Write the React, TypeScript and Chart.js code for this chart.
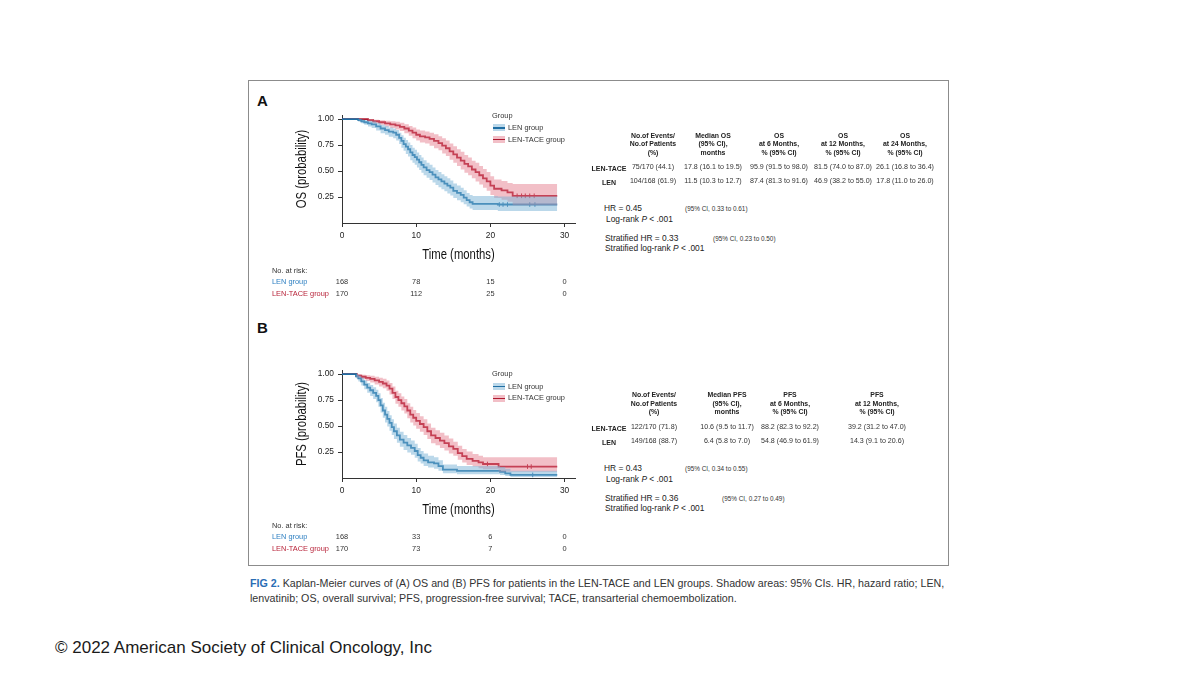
import React, { useEffect, useRef } from "react";
import { Chart, registerables } from "chart.js";

Chart.register(...registerables);

// ---------- axis ticks ----------
const X_TICKS = [0, 10, 20, 30];
const Y_TICKS = [0.25, 0.5, 0.75, 1.0];

// ---------- OS (panel A) ----------
const OS_LEN_T = [0, 2.2, 2.6, 3.0, 3.5, 4.0, 4.6, 5.2, 5.8, 6.3, 6.9, 7.3, 7.7, 8.0, 8.3, 8.6, 8.9, 9.2, 9.5, 9.8, 10.1, 10.4, 10.7, 11.0, 11.4, 11.8, 12.2, 12.6, 13.0, 13.4, 13.8, 14.2, 14.6, 15.0, 15.5, 16.0, 16.4, 16.8, 17.2, 17.6, 21.0, 29.0];
const OS_LEN_S = [1, 0.99, 0.98, 0.97, 0.96, 0.95, 0.93, 0.91, 0.895, 0.88, 0.87, 0.85, 0.82, 0.79, 0.76, 0.735, 0.71, 0.68, 0.655, 0.635, 0.61, 0.585, 0.56, 0.535, 0.51, 0.49, 0.465, 0.44, 0.42, 0.4, 0.38, 0.36, 0.34, 0.31, 0.29, 0.27, 0.245, 0.22, 0.2, 0.185, 0.178, 0.178];
const OS_LEN_LO = [1, 0.975, 0.96, 0.945, 0.93, 0.915, 0.89, 0.865, 0.85, 0.83, 0.815, 0.795, 0.76, 0.725, 0.695, 0.665, 0.64, 0.605, 0.58, 0.56, 0.535, 0.51, 0.485, 0.46, 0.435, 0.415, 0.39, 0.365, 0.345, 0.325, 0.305, 0.285, 0.265, 0.24, 0.22, 0.2, 0.18, 0.16, 0.14, 0.125, 0.115, 0.115];
const OS_LEN_HI = [1, 1, 0.995, 0.99, 0.985, 0.98, 0.965, 0.945, 0.935, 0.92, 0.91, 0.895, 0.87, 0.845, 0.82, 0.8, 0.775, 0.75, 0.725, 0.705, 0.68, 0.655, 0.63, 0.605, 0.58, 0.56, 0.535, 0.51, 0.49, 0.47, 0.45, 0.43, 0.41, 0.38, 0.36, 0.34, 0.315, 0.29, 0.27, 0.26, 0.255, 0.255];
const OS_LEN_CENSOR_T = [21.2, 21.7, 22.3, 25.3, 26.0];
const OS_LEN_CENSOR_S = [0.178, 0.178, 0.178, 0.178, 0.178];

const OS_TACE_T = [0, 3.5, 4.2, 5.0, 5.8, 6.5, 7.2, 7.8, 8.4, 9.0, 9.5, 10.0, 10.5, 11.2, 11.8, 12.4, 13.0, 13.5, 14.0, 14.5, 15.0, 15.5, 16.0, 16.5, 17.0, 17.5, 18.0, 18.5, 19.0, 19.5, 20.0, 20.5, 21.5, 22.3, 23.0, 29.0];
const OS_TACE_S = [1, 0.99, 0.98, 0.97, 0.96, 0.95, 0.94, 0.925, 0.91, 0.89, 0.87, 0.85, 0.835, 0.825, 0.81, 0.79, 0.77, 0.745, 0.72, 0.69, 0.66, 0.63, 0.6, 0.57, 0.545, 0.515, 0.49, 0.46, 0.43, 0.4, 0.36, 0.33, 0.315, 0.295, 0.262, 0.262];
const OS_TACE_LO = [1, 0.975, 0.96, 0.945, 0.93, 0.915, 0.9, 0.885, 0.865, 0.84, 0.815, 0.795, 0.775, 0.765, 0.745, 0.72, 0.7, 0.67, 0.645, 0.61, 0.58, 0.55, 0.515, 0.485, 0.46, 0.43, 0.4, 0.37, 0.34, 0.31, 0.27, 0.24, 0.225, 0.205, 0.17, 0.17];
const OS_TACE_HI = [1, 1, 0.995, 0.99, 0.985, 0.98, 0.975, 0.965, 0.95, 0.935, 0.92, 0.9, 0.89, 0.88, 0.87, 0.855, 0.835, 0.815, 0.795, 0.765, 0.74, 0.71, 0.685, 0.655, 0.63, 0.6, 0.58, 0.55, 0.52, 0.49, 0.45, 0.42, 0.405, 0.385, 0.375, 0.375];
const OS_TACE_CENSOR_T = [23.6, 24.2, 24.7, 25.3, 25.9];
const OS_TACE_CENSOR_S = [0.262, 0.262, 0.262, 0.262, 0.262];

const OS_RISK_LEN = [168, 78, 15, 0];
const OS_RISK_TACE = [170, 112, 25, 0];

// ---------- PFS (panel B) ----------
const PFS_LEN_T = [0, 1.9, 2.2, 2.6, 3.0, 3.4, 3.8, 4.2, 4.6, 4.9, 5.2, 5.5, 5.8, 6.1, 6.4, 6.7, 7.0, 7.4, 7.8, 8.3, 8.8, 9.3, 9.8, 10.2, 10.6, 11.0, 11.6, 12.4, 13.0, 13.6, 15.5, 21.3, 22.0, 22.7, 29.0];
const PFS_LEN_S = [1, 0.98, 0.96, 0.93, 0.9, 0.87, 0.845, 0.82, 0.79, 0.75, 0.7, 0.65, 0.61, 0.57, 0.53, 0.49, 0.45, 0.41, 0.37, 0.34, 0.315, 0.29, 0.26, 0.22, 0.195, 0.17, 0.15, 0.14, 0.115, 0.08, 0.068, 0.06, 0.045, 0.03, 0.03];
const PFS_LEN_LO = [1, 0.96, 0.93, 0.89, 0.855, 0.82, 0.79, 0.76, 0.73, 0.685, 0.63, 0.58, 0.535, 0.495, 0.455, 0.415, 0.375, 0.34, 0.3, 0.27, 0.245, 0.225, 0.195, 0.16, 0.14, 0.115, 0.1, 0.09, 0.07, 0.045, 0.035, 0.03, 0.02, 0.01, 0.01];
const PFS_LEN_HI = [1, 1, 0.985, 0.965, 0.94, 0.915, 0.895, 0.875, 0.85, 0.815, 0.77, 0.725, 0.685, 0.645, 0.605, 0.565, 0.525, 0.485, 0.445, 0.415, 0.385, 0.36, 0.33, 0.29, 0.26, 0.235, 0.215, 0.2, 0.17, 0.13, 0.115, 0.105, 0.09, 0.07, 0.07];
const PFS_LEN_CENSOR_T = [25.7];
const PFS_LEN_CENSOR_S = [0.03];

const PFS_TACE_T = [0, 2.0, 2.6, 3.2, 3.8, 4.4, 5.0, 5.5, 6.0, 6.4, 6.8, 7.2, 7.6, 8.0, 8.4, 8.8, 9.2, 9.6, 10.0, 10.5, 11.0, 11.5, 12.0, 12.6, 13.2, 13.8, 14.4, 15.0, 15.6, 16.2, 16.8, 17.6, 18.4, 19.0, 21.1, 29.0];
const PFS_TACE_S = [1, 0.985, 0.975, 0.965, 0.955, 0.94, 0.925, 0.91, 0.89, 0.86, 0.82, 0.78, 0.75, 0.72, 0.69, 0.65, 0.61, 0.58, 0.55, 0.52, 0.49, 0.45, 0.41, 0.385, 0.36, 0.335, 0.305, 0.28, 0.24, 0.21, 0.185, 0.165, 0.15, 0.135, 0.11, 0.11];
const PFS_TACE_LO = [1, 0.965, 0.95, 0.935, 0.92, 0.9, 0.88, 0.865, 0.84, 0.805, 0.76, 0.715, 0.685, 0.65, 0.62, 0.575, 0.535, 0.505, 0.475, 0.445, 0.415, 0.375, 0.335, 0.315, 0.29, 0.265, 0.235, 0.215, 0.175, 0.15, 0.125, 0.11, 0.095, 0.085, 0.06, 0.06];
const PFS_TACE_HI = [1, 1, 0.995, 0.99, 0.985, 0.975, 0.965, 0.955, 0.94, 0.915, 0.88, 0.84, 0.815, 0.785, 0.76, 0.72, 0.685, 0.655, 0.625, 0.595, 0.565, 0.525, 0.485, 0.46, 0.435, 0.41, 0.38, 0.35, 0.31, 0.28, 0.255, 0.23, 0.215, 0.2, 0.2, 0.2];
const PFS_TACE_CENSOR_T = [19.6, 25.0, 25.5];
const PFS_TACE_CENSOR_S = [0.135, 0.11, 0.11];

const PFS_RISK_LEN = [168, 33, 6, 0];
const PFS_RISK_TACE = [170, 73, 7, 0];

// ---------- tables ----------
const OS_HEAD = [
  ["No.of Events/", "No.of Patients", "(%)"],
  ["Median OS", "(95% CI),", "months"],
  ["OS", "at 6 Months,", "% (95% CI)"],
  ["OS", "at 12 Months,", "% (95% CI)"],
  ["OS", "at 24 Months,", "% (95% CI)"],
];
const OS_ROW_TACE = ["75/170 (44.1)", "17.8 (16.1 to 19.5)", "95.9 (91.5 to 98.0)", "81.5 (74.0 to 87.0)", "26.1 (16.8 to 36.4)"];
const OS_ROW_LEN = ["104/168 (61.9)", "11.5 (10.3 to 12.7)", "87.4 (81.3 to 91.6)", "46.9 (38.2 to 55.0)", "17.8 (11.0 to 26.0)"];

const PFS_HEAD = [
  ["No.of Events/", "No.of Patients", "(%)"],
  ["Median PFS", "(95% CI),", "months"],
  ["PFS", "at 6 Months,", "% (95% CI)"],
  ["PFS", "at 12 Months,", "% (95% CI)"],
];
const PFS_ROW_TACE = ["122/170 (71.8)", "10.6 (9.5 to 11.7)", "88.2 (82.3 to 92.2)", "39.2 (31.2 to 47.0)"];
const PFS_ROW_LEN = ["149/168 (88.7)", "6.4 (5.8 to 7.0)", "54.8 (46.9 to 61.9)", "14.3 (9.1 to 20.6)"];

// ---------- styles ----------
const SANS = '"Liberation Sans", Arial, Helvetica, sans-serif';
const LEN_LINE = "#1f6ea3";
const LEN_BAND = "rgba(120,178,214,0.5)";
const TACE_LINE = "#ae1a30";
const TACE_BAND = "rgba(226,112,130,0.45)";
const LEN_TEXT = "#2f80c2";
const TACE_TEXT = "#b8243a";

const pts = (t: number[], s: number[]) => t.map((x, i) => ({ x, y: s[i] }));

// draws the condensed axis titles and the "No. at risk" table under the x axis
const annotatePlugin = {
  id: "kmAnnot",
  afterDraw(chart: any, _args: any, opts: any) {
    const { ctx, chartArea, scales } = chart;
    const x = scales.x;
    ctx.save();
    ctx.fillStyle = "#111";
    ctx.font = `14.5px ${SANS}`;
    ctx.textAlign = "center";
    ctx.textBaseline = "middle";
    ctx.save();
    ctx.translate((chartArea.left + chartArea.right) / 2, chartArea.bottom + 32);
    ctx.scale(0.78, 1);
    ctx.fillText(opts.xTitle, 0, 0);
    ctx.restore();
    ctx.save();
    ctx.translate(chartArea.left - 40, (chartArea.top + chartArea.bottom) / 2);
    ctx.rotate(-Math.PI / 2);
    ctx.scale(0.78, 1);
    ctx.fillText(opts.yTitle, 0, 0);
    ctx.restore();

    ctx.font = `7.4px ${SANS}`;
    const lx = 17;
    ctx.fillStyle = "#333";
    ctx.textAlign = "left";
    ctx.fillText("No. at risk:", lx, chartArea.bottom + 47.7);
    (opts.rows || []).forEach((row: any, r: number) => {
      const y = chartArea.bottom + 59.3 + r * 12;
      ctx.fillStyle = row.color;
      ctx.textAlign = "left";
      ctx.fillText(row.label, lx, y);
      ctx.fillStyle = "#333";
      ctx.textAlign = "center";
      row.values.forEach((v: number, i: number) => {
        ctx.fillText(String(v), x.getPixelForValue(X_TICKS[i]), y);
      });
    });
    ctx.restore();
  },
};

type Group = { t: number[]; s: number[]; lo: number[]; hi: number[]; ct: number[]; cs: number[]; risk: number[] };

function KMChart({ top, yTitle, len, tace }: { top: number; yTitle: string; len: Group; tace: Group }) {
  const ref = useRef<HTMLCanvasElement | null>(null);
  useEffect(() => {
    if (!ref.current) return;
    const band = (g: Group, color: string) => [
      { data: pts(g.t, g.hi), borderWidth: 0, pointRadius: 0, stepped: true, fill: "+1", backgroundColor: color },
      { data: pts(g.t, g.lo), borderWidth: 0, pointRadius: 0, stepped: true, fill: false },
    ];
    const line = (g: Group, color: string) => ({
      data: pts(g.t, g.s), borderColor: color, borderWidth: 1.8, pointRadius: 0, stepped: true, fill: false,
    });
    const censor = (g: Group, color: string) => ({
      data: pts(g.ct, g.cs), showLine: false, pointStyle: "line", rotation: 90, pointRadius: 2.3,
      borderColor: color, borderWidth: 1, fill: false,
    });
    const tickFont = { size: 8.4, family: SANS };
    const chart = new Chart(ref.current, {
      type: "line",
      data: {
        datasets: [
          ...band(len, LEN_BAND),
          ...band(tace, TACE_BAND),
          line(len, LEN_LINE),
          line(tace, TACE_LINE),
          censor(len, LEN_LINE),
          censor(tace, TACE_LINE),
        ] as any,
      },
      options: {
        animation: false,
        responsive: false,
        events: [],
        layout: { padding: { left: 35, top: 15, right: 15, bottom: 42 } },
        plugins: {
          legend: { display: false },
          tooltip: { enabled: false },
          kmAnnot: {
            xTitle: "Time (months)",
            yTitle,
            rows: [
              { label: "LEN group", color: LEN_TEXT, values: len.risk },
              { label: "LEN-TACE group", color: TACE_TEXT, values: tace.risk },
            ],
          },
        } as any,
        scales: {
          x: {
            type: "linear",
            min: 0,
            max: 31.4,
            afterBuildTicks: (a: any) => { a.ticks = X_TICKS.map((v) => ({ value: v })); },
            afterFit: (s: any) => { s.height = 40; },
            grid: { drawOnChartArea: false, drawTicks: true, tickLength: 4, color: "#333" },
            border: { display: true, color: "#333", width: 1 },
            ticks: { font: tickFont, color: "#222", padding: 4, maxRotation: 0, autoSkip: false },
            title: { display: false },
          },
          y: {
            min: 0,
            max: 1.04,
            afterBuildTicks: (a: any) => { a.ticks = Y_TICKS.map((v) => ({ value: v })); },
            afterFit: (s: any) => { s.width = 52; },
            grid: { drawOnChartArea: false, drawTicks: true, tickLength: 4, color: "#333" },
            border: { display: true, color: "#333", width: 1 },
            ticks: { font: tickFont, color: "#222", padding: 4, callback: (v: any) => Number(v).toFixed(2) },
            title: { display: false },
          },
        },
      } as any,
      plugins: [annotatePlugin],
    });
    return () => chart.destroy();
  }, []);
  return (
    <canvas
      ref={ref}
      width={335}
      height={205}
      style={{ position: "absolute", left: 255, top, width: 335, height: 205 }}
    />
  );
}

function T({ x, y, size, bold, color, align, font, children }: any) {
  const tx = align === "center" ? "-50%" : align === "right" ? "-100%" : "0";
  return (
    <div
      style={{
        position: "absolute",
        left: x,
        top: y,
        transform: `translate(${tx}, -50%)`,
        fontSize: size,
        fontWeight: bold ? 700 : 400,
        color: color || "#333",
        fontFamily: font || SANS,
        lineHeight: 1,
        whiteSpace: "nowrap",
      }}
    >
      {children}
    </div>
  );
}

function Legend({ x, y }: { x: number; y: number }) {
  const item = (dy: number, band: string, line: string, label: string) => (
    <>
      <div style={{ position: "absolute", left: x + 1, top: y + dy - 3.5, width: 12, height: 7, background: band }} />
      <div style={{ position: "absolute", left: x + 1, top: y + dy - 0.75, width: 12, height: 1.5, background: line }} />
      <T x={x + 16} y={y + dy} size={7.4}>{label}</T>
    </>
  );
  return (
    <>
      <T x={x} y={y} size={7.4}>Group</T>
      {item(12.2, LEN_BAND, LEN_LINE, "LEN group")}
      {item(24, TACE_BAND, TACE_LINE, "LEN-TACE group")}
    </>
  );
}

function StatsTable({ head, rowTace, rowLen, colX, headY, rowY }: any) {
  return (
    <>
      {head.map((lines: string[], c: number) =>
        lines.map((ln, k) => (
          <T key={`h${c}-${k}`} x={colX[c]} y={headY + k * 8.5} size={6.9} bold color="#222" align="center">{ln}</T>
        ))
      )}
      <T x={609} y={rowY} size={7} bold color="#222" align="center">LEN-TACE</T>
      <T x={609} y={rowY + 14} size={7} bold color="#222" align="center">LEN</T>
      {rowTace.map((v: string, c: number) => (
        <T key={`t${c}`} x={colX[c]} y={rowY} size={7.1} align="center">{v}</T>
      ))}
      {rowLen.map((v: string, c: number) => (
        <T key={`l${c}`} x={colX[c]} y={rowY + 14} size={7.1} align="center">{v}</T>
      ))}
    </>
  );
}

function HRBlock({ y, hr, ci, shr, sci, ciX, sciX }: any) {
  return (
    <>
      <T x={604} y={y} size={8.4} color="#222">HR = {hr}</T>
      <T x={ciX} y={y + 0.5} size={6.4}>{ci}</T>
      <T x={606} y={y + 10.7} size={8.4} color="#222">Log-rank <i>P</i> &lt; .001</T>
      <T x={605} y={y + 29.7} size={8.4} color="#222">Stratified HR = {shr}</T>
      <T x={sciX} y={y + 31} size={6.4}>{sci}</T>
      <T x={605} y={y + 40} size={8.4} color="#222">Stratified log-rank <i>P</i> &lt; .001</T>
    </>
  );
}

export default function App() {
  const osLen: Group = { t: OS_LEN_T, s: OS_LEN_S, lo: OS_LEN_LO, hi: OS_LEN_HI, ct: OS_LEN_CENSOR_T, cs: OS_LEN_CENSOR_S, risk: OS_RISK_LEN };
  const osTace: Group = { t: OS_TACE_T, s: OS_TACE_S, lo: OS_TACE_LO, hi: OS_TACE_HI, ct: OS_TACE_CENSOR_T, cs: OS_TACE_CENSOR_S, risk: OS_RISK_TACE };
  const pfsLen: Group = { t: PFS_LEN_T, s: PFS_LEN_S, lo: PFS_LEN_LO, hi: PFS_LEN_HI, ct: PFS_LEN_CENSOR_T, cs: PFS_LEN_CENSOR_S, risk: PFS_RISK_LEN };
  const pfsTace: Group = { t: PFS_TACE_T, s: PFS_TACE_S, lo: PFS_TACE_LO, hi: PFS_TACE_HI, ct: PFS_TACE_CENSOR_T, cs: PFS_TACE_CENSOR_S, risk: PFS_RISK_TACE };

  return (
    <div style={{ position: "absolute", left: 0, top: 0, width: 1200, height: 675, background: "#fff", overflow: "hidden", fontFamily: SANS }}>
      <div style={{ position: "absolute", left: 248, top: 80, width: 699, height: 484, border: "1.5px solid #8c8c8c" }} />

      <T x={257} y={100} size={15} bold color="#111">A</T>
      <T x={257} y={327} size={15} bold color="#111">B</T>

      <KMChart top={100} yTitle="OS (probability)" len={osLen} tace={osTace} />
      <KMChart top={355} yTitle="PFS (probability)" len={pfsLen} tace={pfsTace} />

      <Legend x={492} y={115.7} />
      <Legend x={492} y={374.3} />

      <StatsTable head={OS_HEAD} rowTace={OS_ROW_TACE} rowLen={OS_ROW_LEN} colX={[653, 713, 779, 843, 905]} headY={135.7} rowY={168.3} />
      <HRBlock y={208} hr="0.45" ci="(95% CI, 0.33 to 0.61)" shr="0.33" sci="(95% CI, 0.23 to 0.50)" ciX={685} sciX={713} />

      <StatsTable head={PFS_HEAD} rowTace={PFS_ROW_TACE} rowLen={PFS_ROW_LEN} colX={[654, 727, 790, 877]} headY={395} rowY={428.3} />
      <HRBlock y={468.3} hr="0.43" ci="(95% CI, 0.34 to 0.55)" shr="0.36" sci="(95% CI, 0.27 to 0.49)" ciX={685} sciX={722} />

      <T x={250} y={583} size={10.7} color="#333">
        <span style={{ color: "#2a6db5", fontWeight: 700 }}>FIG 2.</span> Kaplan-Meier curves of (A) OS and (B) PFS for patients in the LEN-TACE and LEN groups. Shadow areas: 95% CIs. HR, hazard ratio; LEN,
      </T>
      <T x={250} y={598} size={10.7} color="#333">
        lenvatinib; OS, overall survival; PFS, progression-free survival; TACE, transarterial chemoembolization.
      </T>

      <T x={55} y={647} size={17} color="#1a1a1a">© 2022 American Society of Clinical Oncology, Inc</T>
    </div>
  );
}
